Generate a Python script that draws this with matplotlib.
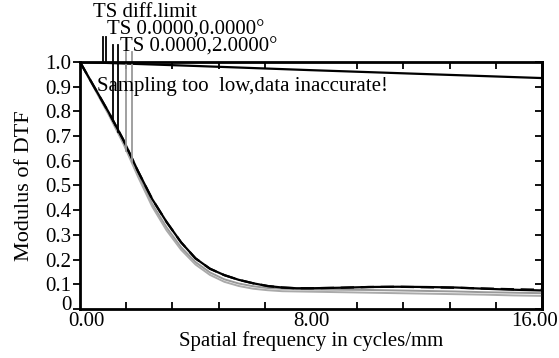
import numpy as np
import matplotlib
matplotlib.use("Agg")
import matplotlib.pyplot as plt
import matplotlib.transforms as mtrans

plt.rcParams['font.family'] = ['Liberation Serif', 'DejaVu Serif']

# spatial frequency samples (cycles/mm)
freq = [0, 1.0, 1.5, 2.0, 2.5, 3.0, 3.5, 4.0, 4.5, 5.0, 5.5, 6.0, 6.5, 7.0, 7.5,
        8, 9, 10, 11, 12, 13, 14, 15, 16]

# field 0,0 deg - tangential / sagittal (black)
ts00_t = [1.0, 0.795, 0.685, 0.56, 0.445, 0.352, 0.27, 0.205, 0.163, 0.137, 0.118,
          0.104, 0.093, 0.087, 0.084, 0.084, 0.086, 0.089, 0.090, 0.089, 0.087,
          0.082, 0.078, 0.075]
ts00_s = [1.0, 0.795, 0.685, 0.56, 0.445, 0.352, 0.27, 0.205, 0.163, 0.137, 0.118,
          0.104, 0.093, 0.087, 0.084, 0.084, 0.086, 0.089, 0.090, 0.088, 0.086,
          0.083, 0.080, 0.078]

# field 0,2 deg (grey)
ts02_t = [1.0, 0.79, 0.675, 0.545, 0.425, 0.33, 0.25, 0.19, 0.148, 0.12, 0.103,
          0.092, 0.085, 0.082, 0.080, 0.079, 0.078, 0.077, 0.075, 0.073, 0.071,
          0.068, 0.066, 0.064]
ts02_s = [1.0, 0.785, 0.67, 0.538, 0.415, 0.318, 0.24, 0.18, 0.138, 0.11, 0.093,
          0.082, 0.076, 0.072, 0.071, 0.070, 0.068, 0.066, 0.064, 0.062, 0.060,
          0.058, 0.055, 0.053]

# diffraction limit
diff_f = [0, 4, 8, 12, 16]
diff_v = [1.0, 0.984, 0.967, 0.951, 0.935]

# legend marker lines: x position, top, bottom, colour
mark_x = [0.80, 0.90, 1.14, 1.32, 1.59, 1.80]
mark_top = [1.10, 1.10, 1.07, 1.07, 1.04, 1.04]
mark_bot = [1.0, 1.0, 0.762, 0.718, 0.640, 0.597]
mark_col = ['black', 'black', 'black', 'black', '#999999', '#999999']

fig = plt.figure(figsize=(5.59, 3.58), dpi=100)
ax = fig.add_axes([0.1431, 0.1369, 0.8265, 0.6899])

ax.plot(diff_f, diff_v, color='black', lw=1.6)
ax.plot(freq, ts02_t, color='#999999', lw=1.4)
ax.plot(freq, ts02_s, color='#aaaaaa', lw=1.4)
ax.plot(freq, ts00_s, color='black', lw=1.6, ls=(0, (6, 3)))
ax.plot(freq, ts00_t, color='black', lw=1.6)

for x, t, b, c in zip(mark_x, mark_top, mark_bot, mark_col):
    ax.plot([x, x], [b, t], color=c, lw=1.3, clip_on=False)

fs = 15
ax.text(0.45, 1.20, 'TS diff.limit', fontsize=fs, va='center', ha='left')
ax.text(0.93, 1.13, 'TS 0.0000,0.0000°', fontsize=fs, va='center', ha='left')
ax.text(1.38, 1.06, 'TS 0.0000,2.0000°', fontsize=fs, va='center', ha='left')
ax.text(0.59, 0.90, 'Sampling too  low,data inaccurate!', fontsize=fs,
        va='center', ha='left')

ax.set_xlim(0, 16)
ax.set_ylim(0, 1.0)
ax.set_xticks(np.arange(0, 16.01, 1.6), minor=True)
ax.set_xticks([0, 8, 16])
ax.set_xticklabels(['0.00', '8.00', '16.00'])
ax.set_yticks(np.arange(0, 1.01, 0.1))
ax.set_yticklabels(['0'] + ['%.1f' % v for v in np.arange(0.1, 1.01, 0.1)])
ax.tick_params(axis='x', which='both', direction='in', top=True, length=5,
               width=1.3, labelsize=fs, pad=2)
ax.tick_params(axis='x', which='major', length=0)
ax.tick_params(axis='y', direction='out', length=5, width=1.3, labelsize=fs, pad=1)

# nudge end labels like the original
xl = ax.get_xticklabels()
xl[0].set_transform(xl[0].get_transform() +
                    mtrans.ScaledTranslation(6 / 100, 0, fig.dpi_scale_trans))
xl[2].set_transform(xl[2].get_transform() +
                    mtrans.ScaledTranslation(-7 / 100, 0, fig.dpi_scale_trans))
yl = ax.get_yticklabels()
yl[0].set_transform(yl[0].get_transform() +
                    mtrans.ScaledTranslation(0, 6 / 100, fig.dpi_scale_trans))

# inward ticks on right
sec = ax.secondary_yaxis('right')
sec.set_yticks(np.arange(0, 1.01, 0.1))
sec.tick_params(direction='in', length=5, width=1.3, labelright=False)
sec.spines['right'].set_linewidth(2)

for s in ax.spines.values():
    s.set_linewidth(2)

ax.set_xlabel('Spatial frequency in cycles/mm', fontsize=fs, labelpad=0)
ax.set_ylabel('Modulus of DTF', fontsize=16, labelpad=8)

fig.savefig('out.png', dpi=100)
